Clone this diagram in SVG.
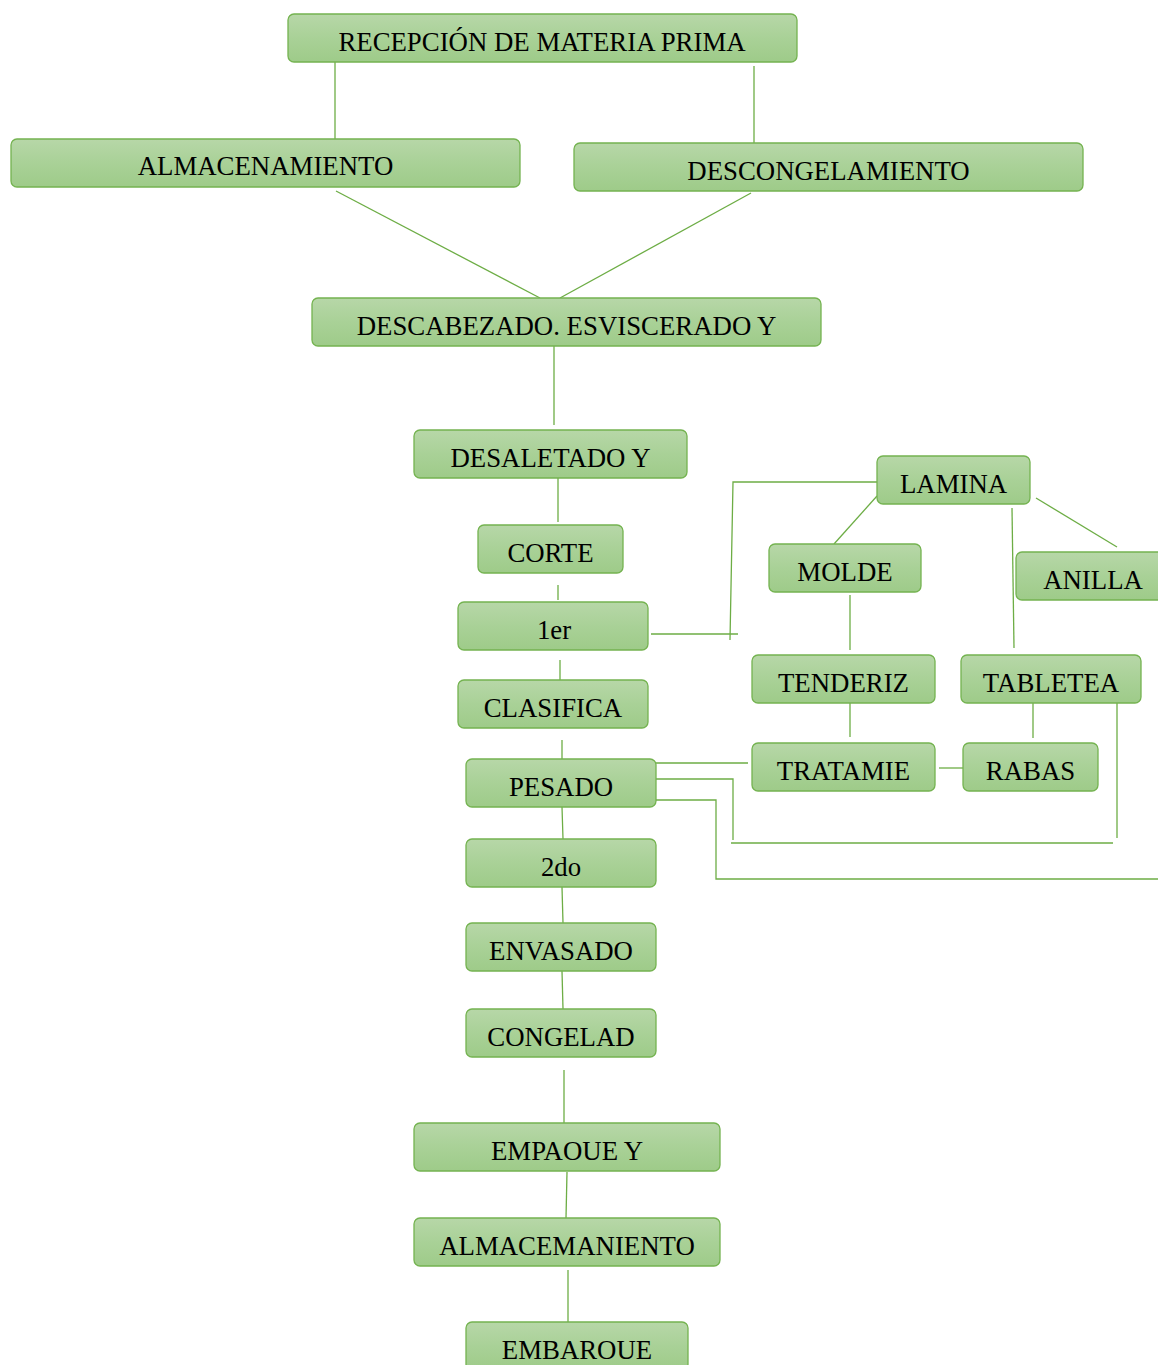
<svg xmlns="http://www.w3.org/2000/svg" width="1158" height="1365" viewBox="0 0 1158 1365">
  <defs>
    <linearGradient id="boxFill" x1="0" y1="0" x2="0" y2="1">
      <stop offset="0" stop-color="#b7d7a8"/>
      <stop offset="0.5" stop-color="#a9d197"/>
      <stop offset="1" stop-color="#9ecb89"/>
    </linearGradient>
  </defs>
  <style>
    .box { fill: url(#boxFill); stroke: #74b350; stroke-width: 1.3; }
    .label { font-family: "Liberation Serif", "Times New Roman", serif; font-size: 26.8px; fill: #000; text-anchor: middle; }
    .wire { fill: none; stroke: #6dad45; stroke-width: 1.3; }
  </style>
  <rect width="1158" height="1365" fill="#ffffff"/>

  <!-- connectors -->
  <g id="connectors" class="wire">
    <line x1="335" y1="62" x2="335" y2="139"/>
    <line x1="754" y1="66" x2="754" y2="143"/>
    <line x1="336" y1="191" x2="540" y2="298"/>
    <line x1="751" y1="193" x2="560" y2="298"/>
    <line x1="554" y1="346" x2="554" y2="425"/>
    <line x1="558" y1="478" x2="558" y2="522"/>
    <line x1="558" y1="585" x2="558" y2="600"/>
    <line x1="560" y1="660" x2="560" y2="680"/>
    <line x1="562" y1="740" x2="562" y2="759"/>
    <line x1="562" y1="807" x2="563" y2="839"/>
    <line x1="562" y1="887" x2="563" y2="923"/>
    <line x1="562" y1="971" x2="563" y2="1009"/>
    <line x1="564" y1="1070" x2="564" y2="1123"/>
    <line x1="567" y1="1172" x2="566" y2="1218"/>
    <line x1="568" y1="1270" x2="568" y2="1322"/>
    <!-- LAMINA branches -->
    <polyline points="877,482 733,482 730,640"/>
    <line x1="651" y1="634" x2="738" y2="634"/>
    <line x1="877" y1="496" x2="834" y2="544"/>
    <line x1="1012" y1="508" x2="1014" y2="648"/>
    <line x1="1036" y1="498" x2="1117" y2="547"/>
    <line x1="850" y1="595" x2="850" y2="650"/>
    <line x1="850" y1="700" x2="850" y2="737"/>
    <line x1="1033" y1="697" x2="1033" y2="738"/>
    <line x1="939" y1="768" x2="968" y2="768"/>
    <!-- PESADO returns -->
    <line x1="652" y1="763" x2="748" y2="763"/>
    <polyline points="656,779 733,779 733,840"/>
    <line x1="731" y1="843" x2="1113" y2="843"/>
    <line x1="1117" y1="703" x2="1117" y2="838"/>
    <polyline points="648,800 716,800 716,879 1158,879"/>
  </g>

  <!-- main line -->
  <g id="recepcion"><rect class="box" x="288" y="14" width="509" height="48" rx="6"/><text class="label" x="542" y="51">RECEPCIÓN DE MATERIA PRIMA</text></g>
  <g id="almacenamiento"><rect class="box" x="11" y="139" width="509" height="48" rx="6"/><text class="label" x="265.5" y="175">ALMACENAMIENTO</text></g>
  <g id="descongelamiento"><rect class="box" x="574" y="143" width="509" height="48" rx="6"/><text class="label" x="828.5" y="180">DESCONGELAMIENTO</text></g>
  <g id="descabezado"><rect class="box" x="312" y="298" width="509" height="48" rx="6"/><text class="label" x="566.5" y="335">DESCABEZADO. ESVISCERADO Y</text></g>
  <g id="desaletado"><rect class="box" x="414" y="430" width="273" height="48" rx="6"/><text class="label" x="550.5" y="467">DESALETADO Y</text></g>
  <g id="corte"><rect class="box" x="478" y="525" width="145" height="48" rx="6"/><text class="label" x="550.5" y="562">CORTE</text></g>
  <g id="primer"><rect class="box" x="458" y="602" width="190" height="48" rx="6"/><text class="label" x="554" y="639">1er</text></g>
  <g id="clasifica"><rect class="box" x="458" y="680" width="190" height="48" rx="6"/><text class="label" x="553" y="717">CLASIFICA</text></g>
  <g id="pesado"><rect class="box" x="466" y="759" width="190" height="48" rx="6"/><text class="label" x="561" y="796">PESADO</text></g>
  <g id="segundo"><rect class="box" x="466" y="839" width="190" height="48" rx="6"/><text class="label" x="561" y="876">2do</text></g>
  <g id="envasado"><rect class="box" x="466" y="923" width="190" height="48" rx="6"/><text class="label" x="561" y="960">ENVASADO</text></g>
  <g id="congelado"><rect class="box" x="466" y="1009" width="190" height="48" rx="6"/><text class="label" x="561" y="1046">CONGELAD</text></g>
  <g id="empaque"><rect class="box" x="414" y="1123" width="306" height="48" rx="6"/><text class="label" x="567" y="1160">EMPAOUE Y</text></g>
  <g id="almacenamiento-final"><rect class="box" x="414" y="1218" width="306" height="48" rx="6"/><text class="label" x="567" y="1255">ALMACEMANIENTO</text></g>
  <g id="embarque"><rect class="box" x="466" y="1322" width="222" height="48" rx="6"/><text class="label" x="577" y="1359">EMBAROUE</text></g>

  <!-- side branch -->
  <g id="lamina"><rect class="box" x="877" y="456" width="153" height="48" rx="6"/><text class="label" x="953.5" y="493">LAMINA</text></g>
  <g id="molde"><rect class="box" x="769" y="544" width="152" height="48" rx="6"/><text class="label" x="845" y="581">MOLDE</text></g>
  <g id="anilla"><rect class="box" x="1016" y="552" width="154" height="48" rx="6"/><text class="label" x="1093" y="589">ANILLA</text></g>
  <g id="tenderiz"><rect class="box" x="752" y="655" width="183" height="48" rx="6"/><text class="label" x="843.5" y="692">TENDERIZ</text></g>
  <g id="tabletea"><rect class="box" x="961" y="655" width="180" height="48" rx="6"/><text class="label" x="1051" y="692">TABLETEA</text></g>
  <g id="tratamiento"><rect class="box" x="752" y="743" width="183" height="48" rx="6"/><text class="label" x="843.5" y="780">TRATAMIE</text></g>
  <g id="rabas"><rect class="box" x="963" y="743" width="135" height="48" rx="6"/><text class="label" x="1030.5" y="780">RABAS</text></g>
</svg>
